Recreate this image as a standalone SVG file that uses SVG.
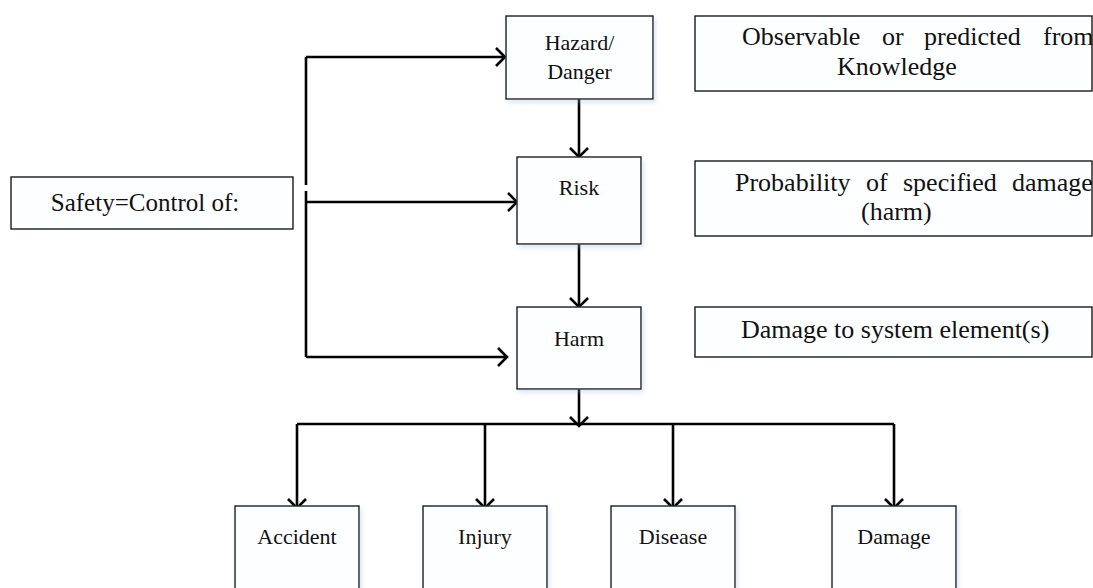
<svg xmlns="http://www.w3.org/2000/svg" width="1093" height="588" viewBox="0 0 1093 588">
<style>
.box{fill:#fdfeff;stroke:#1a1a1a;stroke-width:1.4}
.sh{filter:url(#glow)}
.t{fill:#111}
.n{font-size:22px;text-anchor:middle}
.r{font-size:26px}
.c{fill:none;stroke:#000;stroke-width:2.6}
.a{marker-end:url(#ch)}
</style>
<defs>
<filter id="glow" x="-10%" y="-10%" width="125%" height="125%">
<feDropShadow dx="2" dy="3" stdDeviation="2.5" flood-color="#9fb6d8" flood-opacity="0.35"/>
</filter>
<marker id="ch" markerUnits="userSpaceOnUse" markerWidth="24" markerHeight="24" viewBox="-12 -12 24 24" refX="0" refY="0" orient="auto">
<path d="M-9,-9 L0,0 L-9,9" fill="none" stroke="#000" stroke-width="2.6"/>
</marker>
</defs>
<rect width="1093" height="588" fill="#fff"/>

<g id="connectors">
<path class="c" d="M306,57 V185 M306,191 V357"/>
<path class="c a" d="M306,57 H505"/>
<path class="c a" d="M306,202 H517"/>
<path class="c a" d="M306,357 H507"/>
<path class="c a" d="M579,99 V157"/>
<path class="c a" d="M579,244 V307"/>
<path class="c a" d="M579,389 V426"/>
<path class="c" d="M297,424 H894"/>
<path class="c a" d="M297,424 V508"/>
<path class="c a" d="M485,424 V508"/>
<path class="c a" d="M673,424 V508"/>
<path class="c a" d="M894,424 V508"/>
</g>

<g font-family="Liberation Serif, DejaVu Serif, serif">
<g id="safety">
<rect class="box" x="11" y="177" width="282" height="52"/>
<text class="t" x="145" y="211" font-size="25" text-anchor="middle">Safety=Control of:</text>
</g>

<g id="hazard">
<rect class="box sh" x="506" y="16" width="147" height="83"/>
<text class="t n" x="579.5" y="50">Hazard/</text>
<text class="t n" x="579.5" y="79">Danger</text>
</g>

<g id="risk">
<rect class="box sh" x="517" y="157" width="124" height="87"/>
<text class="t n" x="579" y="195">Risk</text>
</g>

<g id="harm">
<rect class="box sh" x="517" y="307" width="124" height="82"/>
<text class="t n" x="579" y="346">Harm</text>
</g>

<g id="note-hazard">
<rect class="box" x="695" y="16" width="397" height="75"/>
<text class="t r" y="45"><tspan x="742">Observable</tspan><tspan x="882">or</tspan><tspan x="924">predicted</tspan><tspan x="1043">from</tspan></text>
<text class="t r" x="837" y="75">Knowledge</text>
</g>

<g id="note-risk">
<rect class="box" x="695" y="161" width="397" height="75"/>
<text class="t r" y="191"><tspan x="735">Probability</tspan><tspan x="866">of</tspan><tspan x="903">specified</tspan><tspan x="1012">damage</tspan></text>
<text class="t r" x="861" y="220">(harm)</text>
</g>

<g id="note-harm">
<rect class="box" x="695" y="307" width="397" height="50"/>
<text class="t r" x="741" y="338">Damage to system element(s)</text>
</g>

<g id="accident">
<rect class="box sh" x="235" y="506" width="124" height="100"/>
<text class="t n" x="297" y="544">Accident</text>
</g>

<g id="injury">
<rect class="box sh" x="423" y="506" width="124" height="100"/>
<text class="t n" x="485" y="544">Injury</text>
</g>

<g id="disease">
<rect class="box sh" x="611" y="506" width="124" height="100"/>
<text class="t n" x="673" y="544">Disease</text>
</g>

<g id="damage">
<rect class="box sh" x="832" y="506" width="124" height="100"/>
<text class="t n" x="894" y="544">Damage</text>
</g>
</g>
</svg>
